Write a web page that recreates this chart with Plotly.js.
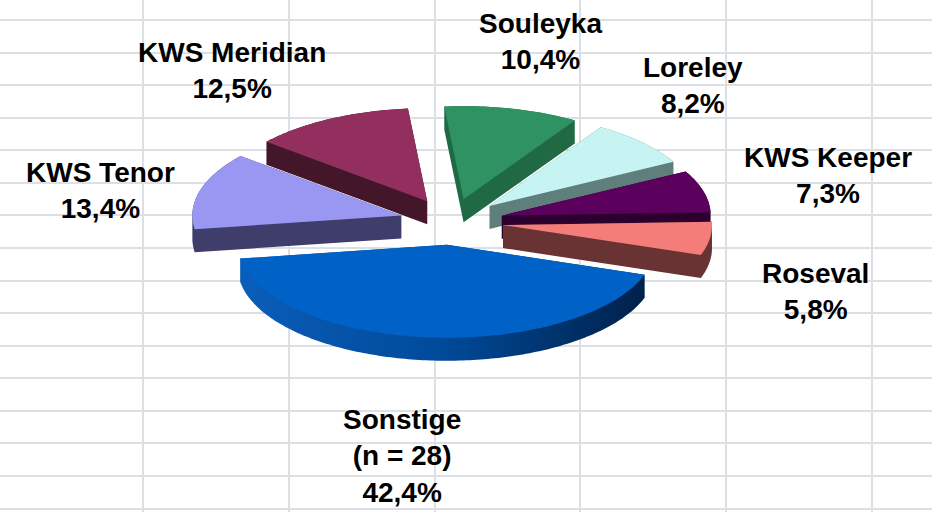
<!DOCTYPE html>
<html><head><meta charset="utf-8">
<script src="https://cdn.plot.ly/plotly-3.0.1.min.js"></script>
<style>html,body{margin:0;padding:0;background:#fff;} #chart{width:932px;height:512px;}</style>
</head><body><div id="chart"></div>
<script>
// ---- data ----
const varieties = ['Souleyka', 'Loreley', 'KWS Keeper', 'Roseval', 'Sonstige', 'KWS Tenor', 'KWS Meridian'];
const sharePct = [10.4, 8.2, 7.3, 5.8, 42.4, 13.4, 12.5];
const sampleNote = ['', '', '', '', '(n = 28)', '', ''];

// ---- style ----
const topColors  = ['#2f9262', '#c6f4f2', '#5c005e', '#f47d79', '#0062c6', '#9a97f3', '#922f5f'];
const sideColors = ['#1f6a45', '#5f7f7d', '#2c002e', '#6a3333', '#003c80', '#3f3d69', '#431729'];
const labelPos = [[540, 41], [693, 85], [828, 175], [815, 291], [402, 456], [100, 190], [232, 70]];
const PIE = {cx: 451.5, cy: 221.7, rx: 209, ry: 93, depth: 23, explode: 0.249, startDeg: -5.3};

const rad = d => d * Math.PI / 180;
function hull(pts) {
  const p = pts.slice().sort((a, b) => a[0] - b[0] || a[1] - b[1]);
  const cross = (o, a, b) => (a[0]-o[0])*(b[1]-o[1]) - (a[1]-o[1])*(b[0]-o[0]);
  const lo = [], up = [];
  for (const q of p) { while (lo.length >= 2 && cross(lo[lo.length-2], lo[lo.length-1], q) <= 0) lo.pop(); lo.push(q); }
  for (let i = p.length - 1; i >= 0; i--) { const q = p[i]; while (up.length >= 2 && cross(up[up.length-2], up[up.length-1], q) <= 0) up.pop(); up.push(q); }
  up.pop(); lo.pop();
  return lo.concat(up);
}

const total = sharePct.reduce((a, b) => a + b, 0);
let acc = PIE.startDeg;
const slices = sharePct.map((v, i) => {
  const a1 = acc, a2 = acc + v / total * 360; acc = a2;
  const b = (a1 + a2) / 2;
  const ax = PIE.cx + PIE.explode * PIE.rx * Math.sin(rad(b));
  const ay = PIE.cy - PIE.explode * PIE.ry * Math.cos(rad(b));
  const pts = [[ax, ay]];
  const n = Math.max(4, Math.ceil((a2 - a1) / 1));
  for (let k = 0; k <= n; k++) {
    const t = a1 + (a2 - a1) * k / n;
    pts.push([ax + PIE.rx * Math.sin(rad(t)), ay - PIE.ry * Math.cos(rad(t))]);
  }
  return {i, b, pts};
});

// painter's order: back slices first
const order = slices.slice().sort((s, t) => (-Math.cos(rad(s.b))) - (-Math.cos(rad(t.b))));
const traces = [];
order.forEach(s => {
  const all = s.pts.concat(s.pts.map(p => [p[0], p[1] + PIE.depth]));
  const h = hull(all);
  const side = {
    x: h.map(p => p[0]).concat([h[0][0]]), y: h.map(p => p[1]).concat([h[0][1]]),
    type: 'scatter', mode: 'none', fill: 'toself', fillcolor: sideColors[s.i],
    hoverinfo: 'skip', showlegend: false
  };
  if (varieties[s.i] === 'Sonstige') {
    side.fillgradient = {type: 'horizontal', colorscale: [[0, '#0a5db9'], [0.5, '#004a99'], [1, '#00214b']]};
  }
  traces.push(side);
  traces.push({
    x: s.pts.map(p => p[0]).concat([s.pts[0][0]]), y: s.pts.map(p => p[1]).concat([s.pts[0][1]]),
    type: 'scatter', mode: 'none', fill: 'toself', fillcolor: topColors[s.i],
    name: varieties[s.i], hoverinfo: 'name', showlegend: false
  });
});

const annotations = varieties.map((name, i) => {
  const pct = sharePct[i].toFixed(1).replace('.', ',') + '%';
  const lines = [name];
  if (sampleNote[i]) lines.push(sampleNote[i]);
  lines.push(pct);
  return {
    x: labelPos[i][0], y: labelPos[i][1], xref: 'x', yref: 'y', showarrow: false,
    text: lines.join('<br>'), align: 'center', xanchor: 'center', yanchor: 'middle',
    font: {family: 'Liberation Sans, Arial, sans-serif', size: 28, color: '#000', weight: 700}
  };
});

const layout = {
  width: 932, height: 512, margin: {l: 0, r: 0, t: 0, b: 0},
  paper_bgcolor: '#ffffff', plot_bgcolor: '#ffffff', showlegend: false,
  xaxis: {range: [0, 932], showgrid: true, gridcolor: '#dcdfe4', gridwidth: 2, tick0: 143, dtick: 145.8,
          showticklabels: false, ticks: '', zeroline: false, showline: false, fixedrange: true},
  yaxis: {range: [512, 0], showgrid: true, gridcolor: '#dcdfe4', gridwidth: 2, tick0: 20, dtick: 32.57,
          showticklabels: false, ticks: '', zeroline: false, showline: false, fixedrange: true},
  annotations
};
Plotly.newPlot('chart', traces, layout, {displayModeBar: false, staticPlot: true});
</script></body></html>
